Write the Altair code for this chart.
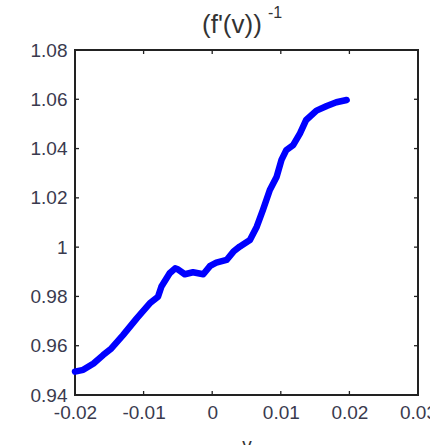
import altair as alt
import pandas as pd

v = [-0.0200, -0.0188, -0.0173, -0.0159, -0.0147, -0.0130, -0.0110, -0.0091,
     -0.0079, -0.0074, -0.0062, -0.0054, -0.0050, -0.0040, -0.0028, -0.0013,
     -0.0003, 0.0006, 0.0021, 0.0031, 0.0040, 0.0055, 0.0065, 0.0074, 0.0084,
     0.0094, 0.0101, 0.0108, 0.0118, 0.0128, 0.0137, 0.0152, 0.0167, 0.0181, 0.0196]
finv = [0.9495, 0.9502, 0.9528, 0.9562, 0.9589, 0.9643, 0.9711, 0.9772,
        0.9799, 0.9840, 0.9894, 0.9914, 0.9910, 0.9890, 0.9898, 0.9890,
        0.9924, 0.9937, 0.9948, 0.9982, 1.0002, 1.0029, 1.0083, 1.0151, 1.0232,
        1.0286, 1.0354, 1.0394, 1.0414, 1.0462, 1.0516, 1.0554, 1.0573, 1.0588, 1.0597]

x_ticks = [-0.02, -0.01, 0, 0.01, 0.02, 0.03]
y_ticks = [0.94, 0.96, 0.98, 1.0, 1.02, 1.04, 1.06, 1.08]

W, H = 343, 345
df = pd.DataFrame({"v": v, "f": finv})
xt = pd.DataFrame({"t": x_ticks[1:-1]})
yt = pd.DataFrame({"t": y_ticks[1:-1]})

xs = alt.Scale(domain=[-0.02, 0.03], nice=False, zero=False)
ys = alt.Scale(domain=[0.94, 1.08], nice=False, zero=False)
lab = "replace(format(datum.value, '~g'), '\u2212', '-')"

line = alt.Chart(df).mark_line(color="#0000ff", strokeWidth=6.5, strokeCap="round", strokeJoin="round").encode(
    x=alt.X("v:Q", scale=xs, axis=alt.Axis(values=x_ticks, labelExpr=lab, title="v", titleFontSize=19,
                                             titleFontWeight="normal", titleColor="#333", titleY=55,
                                             titleBaseline="alphabetic", labelFontSize=19, labelColor="#3a3a4e",
                                             labelFont="Liberation Sans", titleFont="Liberation Sans",
                                             labelPadding=8, ticks=False, domain=False, grid=False,
                                             labelOverlap=False, labelBound=False, labelFlush=False)),
    y=alt.Y("f:Q", scale=ys, axis=alt.Axis(values=y_ticks, labelExpr=lab, title=None, labelFontSize=19,
                                             labelColor="#3a3a4e", labelFont="Liberation Sans", labelPadding=8,
                                             ticks=False, domain=False, grid=False, labelOverlap=False,
                                             labelBound=False, labelFlush=False)),
)

tk = dict(color="#222", strokeWidth=1.3)
xb = alt.Chart(xt).mark_rule(**tk).encode(x=alt.X("t:Q", scale=xs), y=alt.value(H), y2=alt.value(H - 4))
xtop = alt.Chart(xt).mark_rule(**tk).encode(x=alt.X("t:Q", scale=xs), y=alt.value(0), y2=alt.value(4))
yl = alt.Chart(yt).mark_rule(**tk).encode(y=alt.Y("t:Q", scale=ys), x=alt.value(0), x2=alt.value(4))
yr = alt.Chart(yt).mark_rule(**tk).encode(y=alt.Y("t:Q", scale=ys), x=alt.value(W), x2=alt.value(W - 4))

title_main = alt.Chart(pd.DataFrame({"s": ["(f'(v))"]})).mark_text(
    align="left", baseline="alphabetic", fontSize=26, font="Liberation Sans", color="#333").encode(
    text="s:N", x=alt.value(127), y=alt.value(-17))
title_sup = alt.Chart(pd.DataFrame({"s": ["-1"]})).mark_text(
    align="left", baseline="alphabetic", fontSize=16, font="Liberation Sans", color="#333").encode(
    text="s:N", x=alt.value(193), y=alt.value(-32))

chart = alt.layer(line, xb, xtop, yl, yr, title_main, title_sup).properties(
    width=W, height=H,
    autosize=alt.AutoSizeParams(type="none"),
    padding={"left": 75, "top": 50, "right": 12, "bottom": 50},
).configure(background="white").configure_view(stroke="#222", strokeWidth=2)

chart.save("out.html", embed_options={"renderer": "svg", "actions": False})
